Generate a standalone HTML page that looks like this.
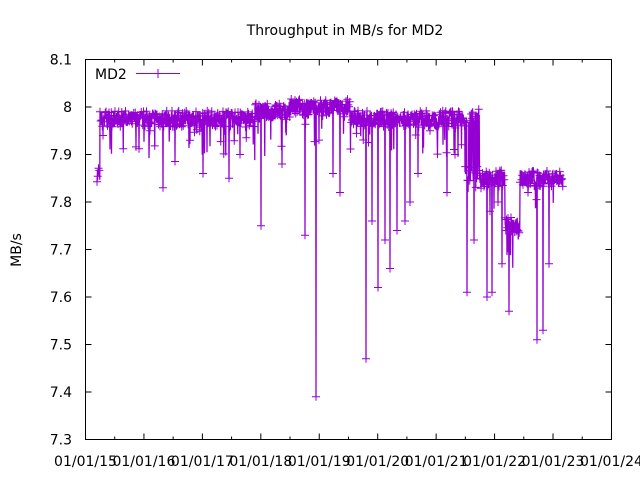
<!DOCTYPE html>
<html><head><meta charset="utf-8"><style>
body{margin:0;background:#fff}
svg{display:block;font-family:"DejaVu Sans","Liberation Sans",sans-serif}
</style></head><body>
<svg id="s" width="640" height="480" xmlns="http://www.w3.org/2000/svg">
<rect width="640" height="480" fill="#fff"/>
<text x="345" y="35" font-size="14" text-anchor="middle">Throughput in MB/s for MD2</text>
<text transform="translate(21,250) rotate(-90)" font-size="14" text-anchor="middle">MB/s</text>
<g id="ax" font-size="14" fill="#000"></g>
<g id="data" stroke="#9400d3" fill="none" stroke-width="1"></g>
<rect x="85.5" y="59.5" width="526" height="380" fill="none" stroke="#000"/>
<text x="95" y="79" font-size="14">MD2</text>
<line x1="136" y1="73.5" x2="180" y2="73.5" stroke="#9400d3"/>
<line x1="158" y1="69" x2="158" y2="78" stroke="#9400d3"/>
</svg>
<script>
var ax=document.getElementById('ax'),d=document.getElementById('data');
var T=59.5,B=439.5,L=85.5,R=611.5;
function Y(v){return B-(v-7.3)/0.8*(B-T);}
var h='';
for(var i=0;i<=8;i++){var v=7.3+i*0.1,y=Y(v);
h+='<line x1="'+L+'" x2="'+(L+6)+'" y1="'+y+'" y2="'+y+'" stroke="#000"/><line x1="'+(R-6)+'" x2="'+R+'" y1="'+y+'" y2="'+y+'" stroke="#000"/>';
h+='<text x="72" y="'+(y+5)+'" text-anchor="end">'+(i==7?'8':v.toFixed(1))+'</text>';}
var labs=['15','16','17','18','19','20','21','22','23','24'];
for(var k=0;k<10;k++){var x=L+k*58.44;
h+='<line x1="'+x+'" x2="'+x+'" y1="'+B+'" y2="'+(B-6)+'" stroke="#000"/><line x1="'+x+'" x2="'+x+'" y1="'+T+'" y2="'+(T+6)+'" stroke="#000"/>';
if(k<9){var m=x+29.2;h+='<line x1="'+m+'" x2="'+m+'" y1="'+B+'" y2="'+(B-3)+'" stroke="#000"/><line x1="'+m+'" x2="'+m+'" y1="'+T+'" y2="'+(T+3)+'" stroke="#000"/>';}
h+='<text x="'+x+'" y="466" text-anchor="middle">01/01/'+labs[k]+'</text>';}
ax.innerHTML=h;
var seed=7;function r(){seed=(seed*16807)%2147483647;return seed/2147483647;}
function base(x){
if(x<100)return 7.86;if(x<255)return 7.975;if(x<290)return 7.99;if(x<350)return 8.0;
if(x<465)return 7.975;if(x<480)return (r()<0.5?7.86:7.98);if(x<505)return 7.85;if(x<520)return 7.75;return 7.85;}
var dips={163:7.83,203:7.86,229:7.85,261:7.75,282:7.88,316:7.39,340:7.82,366:7.47,378:7.62,390:7.66,397:7.74,405:7.76,418:7.86,447:7.82,467:7.61,474:7.72,487:7.60,492:7.61,502:7.67,509:7.57,537:7.51,543:7.53,549:7.67,103:7.94,150:7.95,190:7.93,240:7.9,305:7.73,333:7.86,372:7.76,385:7.72,410:7.8,430:7.95,455:7.9,498:7.8,528:7.82};
var pts=[];
for(var x=97;x<=563;x+=0.25){var v=base(x)+(r()-0.5)*0.035;
if(r()<0.05)v-=r()*0.08;
var xi=Math.round(x);if(dips[xi]!==undefined&&x==xi){v=dips[xi];}
pts.push([x,Y(v)]);}
var p='M'+pts.map(function(q){return q[0]+' '+q[1].toFixed(1)}).join('L');
var m='';for(var i=0;i<pts.length;i++){var q=pts[i];var xi=q[0];
if(i%3==0||dips[xi]!==undefined){m+='M'+(q[0]-4)+' '+q[1].toFixed(1)+'h8M'+q[0]+' '+(q[1]-4).toFixed(1)+'v8';}}
d.innerHTML='<path d="'+p+'" stroke-width="1.3"/><path d="'+m+'"/>';
</script>
</body></html>
